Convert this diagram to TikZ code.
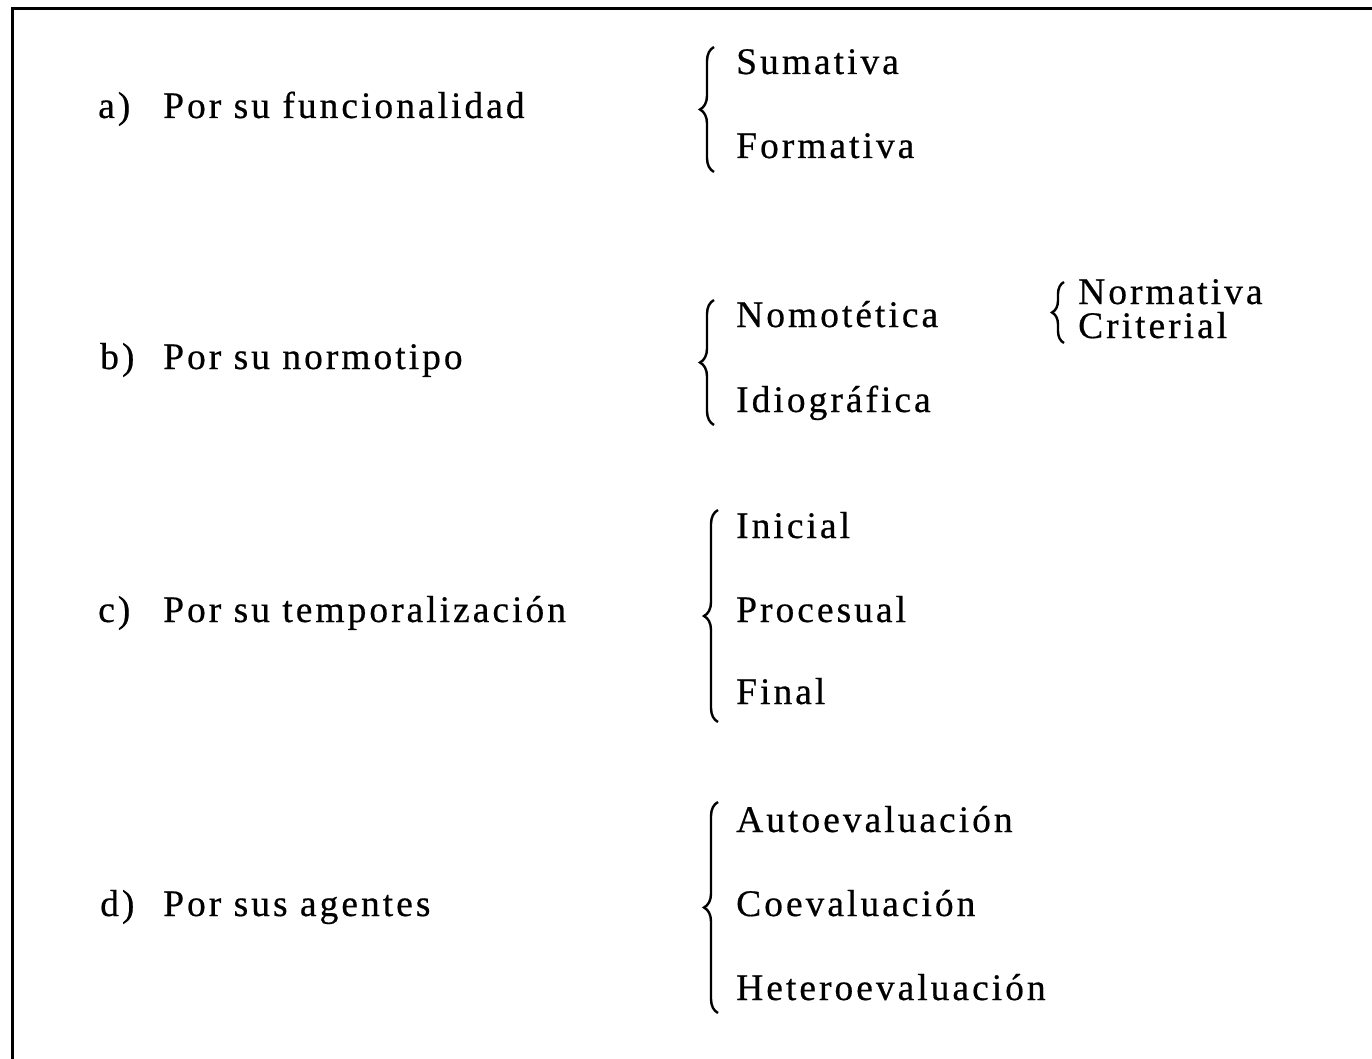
\documentclass[tikz,border=0pt]{standalone}
\usepackage{fontspec}
\setmainfont{Liberation Serif}[LetterSpace=8, FakeBold=0.5]
\usetikzlibrary{decorations.pathreplacing}
\tikzset{
  txt/.style={anchor=base west, inner sep=0pt, font=\fontsize{37.5}{42}\selectfont},
  bigbrace/.style={decorate, decoration={brace, amplitude=14pt, aspect=#1}, line width=2.4pt},
  bigbrace/.default=0.5,
  smallbrace/.style={decorate, decoration={brace, amplitude=12pt}, line width=2.4pt},
  frame/.style={line width=3pt}
}
\begin{document}
\begin{tikzpicture}[x=1pt,y=-1pt]
\useasboundingbox (0,0) rectangle (1372,1059);
\draw[frame] (12,1059) -- (12,9) -- (1372,9);

% a)
\node[txt] (a) at (98,118) {a)};
\node[txt] (at) at (163,118) {Por su funcionalidad};
\node[txt] (a1) at (736,74) {Sumativa};
\node[txt] (a2) at (736,158) {Formativa};
\draw[bigbrace] (714,172) -- (714,47);

% b)
\node[txt] (b) at (100,369) {b)};
\node[txt] (bt) at (163,369) {Por su normotipo};
\node[txt] (b1) at (736,327) {Nomotética};
\node[txt] (b2) at (736,412) {Idiográfica};
\draw[bigbrace] (714,425) -- (714,300);
\node[txt] (b11) at (1078,304) {Normativa};
\node[txt] (b12) at (1078,338) {Criterial};
\draw[smallbrace] (1064,343) -- (1064,282);

% c)
\node[txt] (c) at (98,622) {c)};
\node[txt] (ct) at (163,622) {Por su temporalización};
\node[txt] (c1) at (736,538) {Inicial};
\node[txt] (c2) at (736,622) {Procesual};
\node[txt] (c3) at (736,704) {Final};
\draw[bigbrace] (718,722) -- (718,510);

% d)
\node[txt] (d) at (100,916) {d)};
\node[txt] (dt) at (163,916) {Por sus agentes};
\node[txt] (d1) at (736,832) {Autoevaluación};
\node[txt] (d2) at (736,916) {Coevaluación};
\node[txt] (d3) at (736,1000) {Heteroevaluación};
\draw[bigbrace] (718,1013) -- (718,802);
\end{tikzpicture}
\end{document}
